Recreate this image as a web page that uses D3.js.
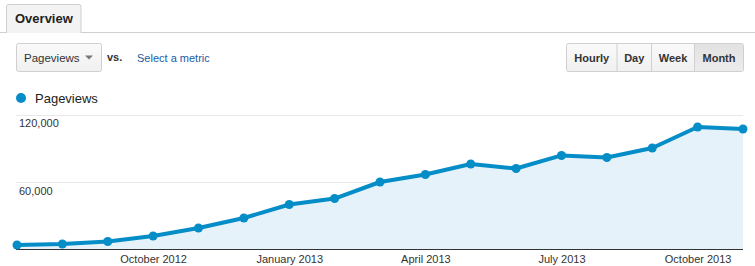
<!DOCTYPE html>
<html>
<head>
<meta charset="utf-8">
<script src="https://cdn.jsdelivr.net/npm/d3@7"></script>
<style>
  html, body { margin: 0; padding: 0; background: #fff; }
  svg { display: block; font-family: "Liberation Sans", Arial, sans-serif; }
</style>
</head>
<body>
<div id="chart"></div>
<script>
const months = ["Jul 2012", "Aug 2012", "Sep 2012", "Oct 2012", "Nov 2012", "Dec 2012",
  "Jan 2013", "Feb 2013", "Mar 2013", "Apr 2013", "May 2013", "Jun 2013",
  "Jul 2013", "Aug 2013", "Sep 2013", "Oct 2013", "Nov 2013"];
const pageviews = [4000, 4900, 7100, 12000, 19100, 28000, 40000, 45300, 60000,
  66700, 76000, 72000, 83600, 81800, 90200, 108900, 107100];
const tickMonths = ["Oct 2012", "Jan 2013", "Apr 2013", "Jul 2013", "Oct 2013"];
const tickLabels = ["October 2012", "January 2013", "April 2013", "July 2013", "October 2013"];
const yTicks = [60000, 120000];
const periods = ["Hourly", "Day", "Week", "Month"];
const activePeriod = "Month";

const width = 755, height = 266;
const blue = "#058dc7";

const svg = d3.select("#chart").append("svg")
  .attr("width", width)
  .attr("height", height);

const defs = svg.append("defs");
const grad = defs.append("linearGradient")
  .attr("id", "btn").attr("x1", 0).attr("y1", 0).attr("x2", 0).attr("y2", 1);
grad.append("stop").attr("offset", "0%").attr("stop-color", "#fafafa");
grad.append("stop").attr("offset", "100%").attr("stop-color", "#f0f0f0");
const gradOn = defs.append("linearGradient")
  .attr("id", "btnOn").attr("x1", 0).attr("y1", 0).attr("x2", 0).attr("y2", 1);
gradOn.append("stop").attr("offset", "0%").attr("stop-color", "#e2e2e2");
gradOn.append("stop").attr("offset", "100%").attr("stop-color", "#ececec");

// tab header
svg.append("line")
  .attr("x1", 0).attr("x2", width).attr("y1", 32.5).attr("y2", 32.5)
  .attr("stroke", "#cfcfcf");
svg.append("path")
  .attr("d", "M6.5,33 V6.5 Q6.5,4.5 8.5,4.5 H79 Q81,4.5 81,6.5 V33")
  .attr("fill", "#f3f3f3")
  .attr("stroke", "#cfcfcf");
svg.append("text")
  .attr("x", 15).attr("y", 23)
  .attr("font-size", 13).attr("font-weight", "bold").attr("fill", "#222")
  .text("Overview");

// metric dropdown
svg.append("rect")
  .attr("x", 16.5).attr("y", 43.5).attr("width", 85).attr("height", 28).attr("rx", 2)
  .attr("fill", "url(#btn)").attr("stroke", "#d0d0d0");
svg.append("text")
  .attr("x", 24).attr("y", 62)
  .attr("font-size", 11.5).attr("fill", "#333")
  .text("Pageviews");
svg.append("path")
  .attr("d", "M85,55.5 h8 l-4,4 z")
  .attr("fill", "#777");
svg.append("text")
  .attr("x", 107).attr("y", 61)
  .attr("font-size", 11).attr("font-weight", "bold").attr("fill", "#333")
  .text("VS.")
  .text("vs.");
svg.append("text")
  .attr("x", 137).attr("y", 62)
  .attr("font-size", 11).attr("fill", "#1a5aa8")
  .text("Select a metric");

// period buttons
const btnEdges = [566.5, 617, 651.5, 694.5, 743.5];
const btns = svg.append("g");
btns.append("rect")
  .attr("x", btnEdges[0]).attr("y", 43.5)
  .attr("width", btnEdges[4] - btnEdges[0]).attr("height", 28).attr("rx", 2)
  .attr("fill", "url(#btn)").attr("stroke", "#d0d0d0");
periods.forEach((p, i) => {
  const x0 = btnEdges[i], x1 = btnEdges[i + 1];
  if (p === activePeriod) {
    btns.append("rect")
      .attr("x", x0).attr("y", 44).attr("width", x1 - x0 - 0.5).attr("height", 27)
      .attr("fill", "url(#btnOn)");
  }
  if (i > 0) {
    btns.append("line")
      .attr("x1", x0).attr("x2", x0).attr("y1", 44).attr("y2", 71)
      .attr("stroke", "#d0d0d0");
  }
  btns.append("text")
    .attr("x", (x0 + x1) / 2).attr("y", 62)
    .attr("text-anchor", "middle")
    .attr("font-size", 11).attr("font-weight", "bold").attr("fill", "#333")
    .text(p);
});

// legend
svg.append("circle")
  .attr("cx", 21).attr("cy", 98).attr("r", 5)
  .attr("fill", blue);
svg.append("text")
  .attr("x", 35).attr("y", 103)
  .attr("font-size", 13).attr("fill", "#222")
  .text("Pageviews");

// chart
const x = d3.scalePoint()
  .domain(months)
  .range([17, 743]);
const y = d3.scaleLinear()
  .domain([0, 120000])
  .range([249.5, 114.5]);

const plot = svg.append("g");

plot.selectAll(".grid")
  .data(yTicks)
  .enter()
  .append("line")
  .attr("class", "grid")
  .attr("x1", 16).attr("x2", 743)
  .attr("y1", d => Math.round(y(d)) + 0.5)
  .attr("y2", d => Math.round(y(d)) + 0.5)
  .attr("stroke", "#e8e8e8");

const area = d3.area()
  .x((d, i) => x(months[i]))
  .y0(y(0))
  .y1(d => y(d));
const line = d3.line()
  .x((d, i) => x(months[i]))
  .y(d => y(d));

plot.append("path")
  .datum(pageviews)
  .attr("d", area)
  .attr("fill", "#e6f2f9");

plot.selectAll(".ylabel")
  .data(yTicks)
  .enter()
  .append("text")
  .attr("class", "ylabel")
  .attr("x", 19)
  .attr("y", d => y(d) + 12.5)
  .attr("font-size", 11).attr("fill", "#333")
  .text(d3.format(",")) ;

plot.append("line")
  .attr("x1", 16).attr("x2", 743)
  .attr("y1", 249.5).attr("y2", 249.5)
  .attr("stroke", "#333");

plot.append("path")
  .datum(pageviews)
  .attr("d", line)
  .attr("fill", "none")
  .attr("stroke", blue)
  .attr("stroke-width", 4)
  .attr("stroke-linejoin", "round");

plot.selectAll(".dot")
  .data(pageviews)
  .enter()
  .append("circle")
  .attr("class", "dot")
  .attr("cx", (d, i) => x(months[i]))
  .attr("cy", d => y(d))
  .attr("r", 4.5)
  .attr("fill", blue);

const xAxis = d3.axisBottom(x)
  .tickValues(tickMonths)
  .tickSize(0)
  .tickFormat(d => tickLabels[tickMonths.indexOf(d)]);

const gx = plot.append("g")
  .attr("transform", "translate(0,252)")
  .call(xAxis);
gx.select(".domain").remove();
gx.selectAll("text")
  .attr("font-family", "Liberation Sans, Arial, sans-serif")
  .attr("font-size", 11)
  .attr("fill", "#333");
</script>
</body>
</html>
